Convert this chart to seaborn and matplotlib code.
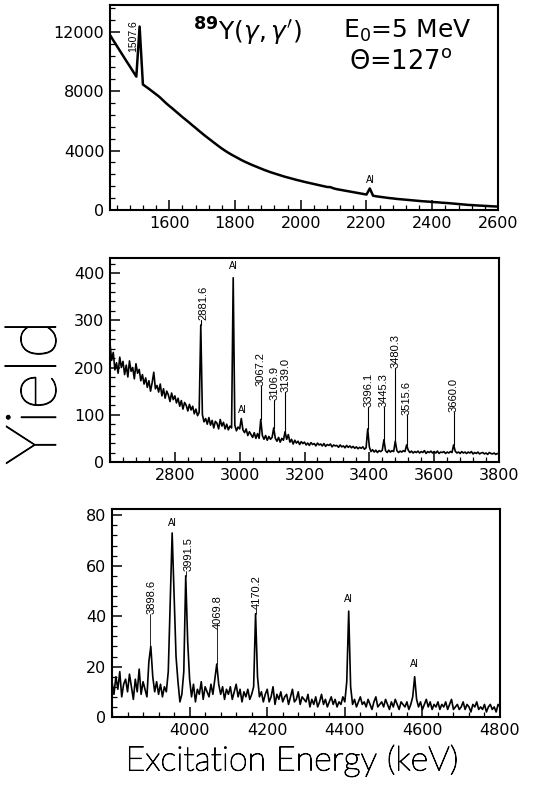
import numpy as np
import pandas as pd
import seaborn as sns
import matplotlib.pyplot as plt
import matplotlib.patheffects as pe
from matplotlib.ticker import MultipleLocator

# panel 1 : 1420-2600 keV, 10 keV bins
e1_start, e1_step = 1420, 10
y1 = [11780, 11420, 11070, 10720, 10370, 10020, 9680, 9330, 8980, 12350,
      8450, 8290, 8130, 7960, 7790, 7620, 7410, 7200, 7010, 6830,
      6640, 6450, 6260, 6080, 5900, 5710, 5530, 5340, 5160, 4980,
      4810, 4640, 4470, 4300, 4140, 3990, 3850, 3720, 3600, 3480,
      3360, 3250, 3150, 3050, 2960, 2870, 2780, 2690, 2610, 2530,
      2460, 2390, 2320, 2250, 2190, 2130, 2070, 2010, 1960, 1900,
      1850, 1800, 1750, 1700, 1650, 1600, 1550, 1540, 1455, 1400,
      1360, 1320, 1280, 1240, 1200, 1160, 1120, 1080, 1040, 1450,
      960, 920, 890, 860, 830, 800, 780, 750, 730, 710,
      690, 670, 650, 630, 610, 590, 575, 560, 540, 525,
      510, 490, 475, 460, 440, 420, 400, 380, 360, 340,
      330, 315, 300, 290, 275, 265, 250, 240, 230]

# panel 2 : 2600-3800 keV, 5 keV bins
e2_start, e2_step = 2600, 5
y2 = [250, 215, 232, 195, 210, 188, 222, 200, 213, 185,
      205, 180, 214, 192, 200, 176, 208, 188, 196, 172,
      185, 165, 178, 158, 172, 150, 168, 190, 155, 162,
      148, 165, 140, 155, 135, 150, 142, 128, 146, 132,
      140, 125, 135, 118, 130, 112, 126, 120, 108, 122,
      110, 118, 102, 112, 98, 105, 290, 100, 85, 92,
      80, 94, 78, 88, 72, 86, 82, 70, 90, 76,
      84, 70, 80, 68, 76, 72, 390, 78, 66, 74,
      70, 92, 68, 62, 70, 56, 64, 58, 52, 62,
      50, 60, 50, 90, 56, 48, 56, 46, 54, 48,
      52, 72, 50, 44, 52, 42, 50, 46, 64, 48,
      58, 42, 48, 38, 46, 40, 44, 37, 43, 39,
      42, 36, 40, 35, 41, 37, 39, 34, 40, 36,
      38, 34, 39, 33, 37, 35, 38, 32, 36, 34,
      35, 31, 36, 32, 34, 30, 35, 31, 34, 30,
      33, 29, 32, 28, 31, 29, 32, 27, 30, 70,
      32, 22, 26, 21, 25, 20, 24, 22, 25, 47,
      24, 20, 25, 21, 24, 22, 44, 24, 20, 23,
      21, 24, 22, 36, 25, 20, 23, 19, 22, 20,
      23, 19, 22, 20, 24, 18, 22, 20, 23, 19,
      22, 19, 23, 18, 21, 20, 22, 18, 21, 19,
      22, 20, 36, 23, 19, 21, 18, 22, 19, 21,
      18, 21, 19, 22, 17, 20, 18, 21, 17, 19,
      20, 17, 19, 16, 20, 18, 17, 19, 16, 18,
      17]

# panel 3 : 3800-4800 keV, 5 keV bins
e3_start, e3_step = 3800, 5
y3 = [14, 9, 16, 11, 18, 8, 13, 15, 10, 17,
      12, 7, 15, 10, 19, 9, 14, 11, 8, 22,
      28, 16, 10, 14, 9, 13, 8, 12, 10, 18,
      45, 73, 48, 24, 14, 6, 9, 18, 56, 30,
      15, 8, 13, 6, 11, 9, 14, 7, 12, 10,
      8, 13, 9, 15, 21, 13, 9, 12, 7, 11,
      9, 12, 7, 10, 13, 8, 11, 6, 10, 8,
      11, 7, 9, 12, 41, 16, 8, 10, 6, 9,
      11, 6, 8, 12, 5, 9, 7, 10, 6, 8,
      9, 5, 8, 11, 6, 7, 10, 5, 8, 7,
      6, 9, 4, 7, 5, 8, 4, 6, 9, 5,
      7, 4, 6, 8, 5, 7, 4, 6, 5, 8,
      6, 14, 42, 12, 5, 7, 4, 6, 8, 5,
      6, 4, 7, 5, 3, 6, 8, 4, 5, 6,
      4, 7, 5, 3, 6, 4, 7, 5, 3, 6,
      5, 4, 6, 3, 5, 8, 16, 7, 4, 6,
      3, 5, 7, 4, 6, 3, 5, 4, 6, 3,
      5, 4, 6, 3, 5, 7, 3, 4, 5, 3,
      4, 6, 3, 5, 4, 2, 5, 4, 6, 3,
      4, 3, 5, 2, 4, 5, 3, 4, 2, 5,
      4]

# peak labels: energy, top of peak, bottom of text, text x shift (keV)
lab2_e = [2881.6, 3067.2, 3106.9, 3139.0, 3396.1, 3445.3, 3480.3, 3515.6, 3660.0]
lab2_peak = [290, 90, 72, 64, 70, 47, 44, 36, 36]
lab2_text = [300, 160, 132, 149, 117, 117, 200, 100, 106]
lab2_dx = [6, -3, 2, 3, 0, -2, 0, 0, 0]
al2_e = [2980, 3008]
al2_y = [415, 110]

lab3_e = [3898.6, 3991.5, 4069.8, 4170.2]
lab3_peak = [28, 56, 21, 41]
lab3_text = [41, 58, 35, 43]
lab3_dx = [4, 7, 2, 3]
al3_e = [3956, 4410, 4580]
al3_y = [77, 47, 21]

sns.set_theme(style='ticks', rc={'text.color': 'black', 'axes.labelcolor': 'black',
                                 'xtick.color': 'black', 'ytick.color': 'black'})
plt.rcParams['font.family'] = ['DejaVu Sans']
plt.rcParams['mathtext.fontset'] = 'dejavusans'


def spectrum(start, step, counts):
    return pd.DataFrame({'energy': start + step * np.arange(len(counts)),
                         'counts': counts})


fig = plt.figure(figsize=(5.38, 7.85), dpi=100)
ax1 = fig.add_axes([0.2045, 0.7325, 0.7212, 0.2611])
ax2 = fig.add_axes([0.2045, 0.4115, 0.723, 0.2599])
ax3 = fig.add_axes([0.2082, 0.0866, 0.7212, 0.265])

panels = [(ax1, spectrum(e1_start, e1_step, y1), (1420, 2600), (0, 13800), 4000, 800, 1.8),
          (ax2, spectrum(e2_start, e2_step, y2), (2600, 3800), (0, 432), 100, 20, 1.2),
          (ax3, spectrum(e3_start, e3_step, y3), (3800, 4800), (0, 82.5), 20, 4, 1.2)]

for ax, df, xl, yl, ymaj, ymin, lw in panels:
    sns.lineplot(data=df, x='energy', y='counts', ax=ax, color='black',
                 lw=lw, estimator=None)
    ax.set_xlim(xl)
    ax.set_ylim(yl)
    ax.set_xlabel('')
    ax.set_ylabel('')
    ax.xaxis.set_major_locator(MultipleLocator(200))
    ax.xaxis.set_minor_locator(MultipleLocator(40))
    ax.yaxis.set_major_locator(MultipleLocator(ymaj))
    ax.yaxis.set_minor_locator(MultipleLocator(ymin))
    ax.tick_params(which='major', direction='in', length=7, width=1.1,
                   labelsize=11.5, pad=4, colors='black')
    ax.tick_params(which='minor', direction='in', length=3.5, width=0.9)
    for s in ax.spines.values():
        s.set_linewidth(1.5)
        s.set_color('black')
    ax.set_facecolor('white')

ax1.set_xticks([1600, 1800, 2000, 2200, 2400, 2600])
ax2.set_xticks([2800, 3000, 3200, 3400, 3600, 3800])
ax3.set_xticks([4000, 4200, 4400, 4600, 4800])

lab_font = ['Liberation Sans', 'DejaVu Sans']

# panel 1 texts
ax1.text(1490, 11700, '1507.6', rotation=90, ha='center', va='center',
         fontsize=7.5, family=lab_font)
ax1.text(2211, 2050, 'Al', ha='center', va='center', fontsize=7, family=lab_font)
ax1.text(0.355, 0.87, r"$^{\mathbf{89}}\mathrm{Y}(\gamma,\gamma')$", transform=ax1.transAxes,
         ha='center', va='center', fontsize=18)
ax1.text(0.765, 0.875, r'E$_0$=5 MeV', transform=ax1.transAxes,
         ha='center', va='center', fontsize=18)
ax1.text(0.75, 0.72, r'$\Theta$=127$^{\mathrm{o}}$', transform=ax1.transAxes,
         ha='center', va='center', fontsize=18.5)

# panel 2 labels
for e, p, t, dx in zip(lab2_e, lab2_peak, lab2_text, lab2_dx):
    ax2.plot([e, e], [p, t], color='black', lw=0.8)
    ax2.text(e + dx, t, f'{e:.1f}', rotation=90, ha='center', va='bottom',
             fontsize=8, family=lab_font)
for e, y in zip(al2_e, al2_y):
    ax2.text(e, y, 'Al', ha='center', va='center', fontsize=7, family=lab_font)

# panel 3 labels
for e, p, t, dx in zip(lab3_e, lab3_peak, lab3_text, lab3_dx):
    ax3.plot([e, e], [p, t], color='black', lw=0.6)
    ax3.text(e + dx, t, f'{e:.1f}', rotation=90, ha='center', va='bottom',
             fontsize=8, family=lab_font)
for e, y in zip(al3_e, al3_y):
    ax3.text(e, y, 'Al', ha='center', va='center', fontsize=7, family=lab_font)

thin = [pe.withStroke(linewidth=0.7, foreground='black')]
fig.text(0.069, 0.5, 'Yield', rotation=90, ha='center', va='center', color='black',
         fontsize=51, fontweight='light', family=['Lato', 'DejaVu Sans'],
         path_effects=thin)
fig.text(0.543, 0.031, 'Excitation Energy (keV)', ha='center', va='center',
         color='black', fontsize=24.5, fontweight='light', family=['Lato', 'DejaVu Sans'],
         path_effects=thin)

fig.savefig('out.png', dpi=100, facecolor='white')
